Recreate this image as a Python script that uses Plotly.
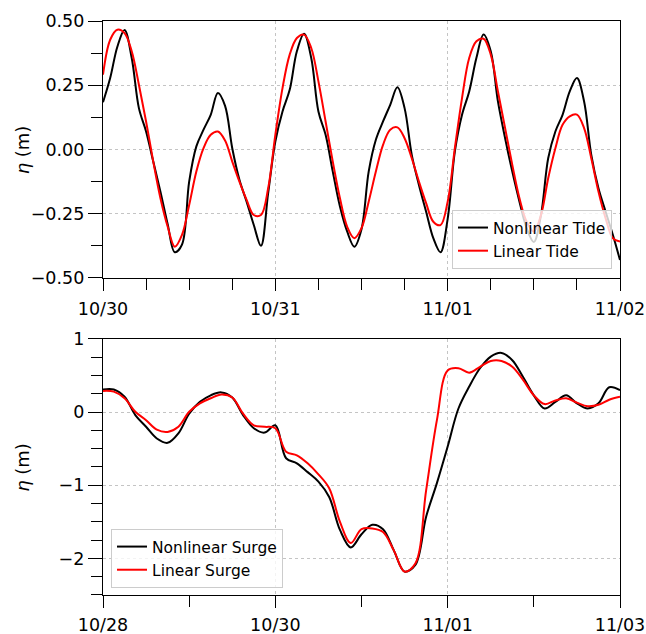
import pandas as pd
import plotly.graph_objects as go

# Tidal elevation, hourly from 10/30 00:00 to 11/02 00:00
tide_times = pd.date_range("2012-10-30 00:00", "2012-11-02 00:00", freq="1h")
nonlinear_tide = [
    0.184, 0.278, 0.40, 0.465, 0.356, 0.161, 0.07, -0.047, -0.164, -0.29,
    -0.40, -0.37, -0.125, 0.012, 0.077, 0.135, 0.22, 0.17, 0.005, -0.118,
    -0.203, -0.294, -0.375, -0.17, 0.031, 0.148, 0.232, 0.382, 0.45, 0.356,
    0.148, 0.057, -0.086, -0.222, -0.319, -0.378, -0.31, -0.086, 0.038, 0.109,
    0.174, 0.242, 0.161, -0.021, -0.138, -0.242, -0.345, -0.40, -0.27, -0.008,
    0.135, 0.226, 0.356, 0.447, 0.382, 0.187, 0.044, -0.086, -0.203, -0.306,
    -0.36, -0.255, -0.034, 0.07, 0.135, 0.226, 0.278, 0.187, -0.021, -0.151,
    -0.242, -0.332, -0.43,
]
linear_tide = [
    0.291, 0.427, 0.466, 0.453, 0.382, 0.252, 0.109, -0.047, -0.19, -0.30,
    -0.378, -0.332, -0.216, -0.086, 0.005, 0.057, 0.07, 0.035, -0.047, -0.125,
    -0.196, -0.255, -0.255, -0.151, 0.057, 0.239, 0.369, 0.434, 0.447, 0.395,
    0.265, 0.109, -0.047, -0.19, -0.30, -0.345, -0.306, -0.203, -0.086, 0.018,
    0.077, 0.086, 0.044, -0.034, -0.125, -0.209, -0.281, -0.294, -0.203, 0.005,
    0.20, 0.356, 0.421, 0.431, 0.369, 0.226, 0.083, -0.06, -0.19, -0.281,
    -0.319, -0.255, -0.112, 0.005, 0.096, 0.129, 0.136, 0.083, -0.034, -0.164,
    -0.268, -0.345, -0.358,
]

# Surge elevation, 3-hourly from 10/28 00:00 to 11/03 00:00
surge_times = pd.date_range("2012-10-28 00:00", "2012-11-03 00:00", freq="3h")
nonlinear_surge = [
    0.31, 0.31, 0.21, -0.04, -0.20, -0.36, -0.42, -0.29, -0.02, 0.14,
    0.23, 0.27, 0.20, -0.04, -0.22, -0.28, -0.18, -0.63, -0.70, -0.82,
    -0.95, -1.16, -1.61, -1.85, -1.67, -1.54, -1.60, -1.89, -2.18, -2.09,
    -1.43, -0.97, -0.47, 0.05, 0.35, 0.60, 0.76, 0.81, 0.71, 0.48,
    0.23, 0.05, 0.14, 0.23, 0.12, 0.05, 0.12, 0.34, 0.30,
]
linear_surge = [
    0.29, 0.28, 0.19, 0.005, -0.11, -0.24, -0.27, -0.20, 0.005, 0.12,
    0.19, 0.24, 0.20, -0.02, -0.18, -0.20, -0.22, -0.54, -0.59, -0.70,
    -0.85, -1.04, -1.50, -1.79, -1.60, -1.59, -1.64, -1.89, -2.18, -2.07,
    -1.07, -0.11, 0.57, 0.60, 0.54, 0.62, 0.70, 0.70, 0.62, 0.44,
    0.23, 0.11, 0.16, 0.19, 0.13, 0.08, 0.10, 0.17, 0.21,
]

FONT = "DejaVu Sans"
HOUR = 3600 * 1000
DAY = 24 * HOUR

fig = go.Figure()

fig.add_trace(go.Scatter(x=tide_times, y=nonlinear_tide, name="Nonlinear Tide",
                         mode="lines", line=dict(color="black", width=2, shape="spline"),
                         xaxis="x", yaxis="y", legend="legend"))
fig.add_trace(go.Scatter(x=tide_times, y=linear_tide, name="Linear Tide",
                         mode="lines", line=dict(color="#ff0000", width=2, shape="spline"),
                         xaxis="x", yaxis="y", legend="legend"))
fig.add_trace(go.Scatter(x=surge_times, y=nonlinear_surge, name="Nonlinear Surge",
                         mode="lines", line=dict(color="black", width=2, shape="spline"),
                         xaxis="x2", yaxis="y2", legend="legend2"))
fig.add_trace(go.Scatter(x=surge_times, y=linear_surge, name="Linear Surge",
                         mode="lines", line=dict(color="#ff0000", width=2, shape="spline"),
                         xaxis="x2", yaxis="y2", legend="legend2"))

common = dict(
    showline=True, linecolor="black", linewidth=1.3, mirror=True,
    ticks="outside", tickcolor="black", tickwidth=1.2,
    showgrid=True, gridcolor="#c4c4c4", griddash="dot", gridwidth=1,
    zeroline=False, automargin=False,
    tickfont=dict(family=FONT, size=17.5, color="black"),
)

top_dom = [0.5523, 1.0]
bot_dom = [0.0, 0.446]

fig.update_layout(
    width=646, height=634,
    margin=dict(l=103, r=26, t=21, b=39, autoexpand=False),
    paper_bgcolor="white", plot_bgcolor="white",
    font=dict(family=FONT, color="black"),
    xaxis=dict(common, domain=[0, 1], anchor="y", type="date",
               range=["2012-10-30", "2012-11-02"], tick0="2012-10-30", dtick=DAY,
               tickformat="%m/%d", ticklen=12, ticklabelstandoff=3,
               minor=dict(dtick=6 * HOUR, ticklen=11, tickwidth=1.2,
                          tickcolor="black", showgrid=False)),
    yaxis=dict(common, domain=top_dom, anchor="x", range=[-0.5, 0.5],
               tick0=0, dtick=0.25, tickformat=".2f", ticklen=14,
               minor=dict(dtick=0.125, ticklen=11, tickwidth=1.2,
                          tickcolor="black", showgrid=False)),
    xaxis2=dict(common, domain=[0, 1], anchor="y2", type="date",
                range=["2012-10-28", "2012-11-03"], tick0="2012-10-28", dtick=2 * DAY,
                tickformat="%m/%d", ticklen=12, ticklabelstandoff=2,
                minor=dict(dtick=DAY, ticklen=11, tickwidth=1.2,
                           tickcolor="black", showgrid=False)),
    yaxis2=dict(common, domain=bot_dom, anchor="x2", range=[-2.5, 1],
                tick0=0, dtick=1, ticklen=14,
                minor=dict(dtick=0.25, ticklen=11, tickwidth=1.2,
                           tickcolor="black", showgrid=False)),
    legend=dict(x=0.9845, y=0.568, xanchor="right", yanchor="bottom",
                bgcolor="rgba(255,255,255,0.8)", bordercolor="#cccccc", borderwidth=1,
                font=dict(family=FONT, size=15.5, color="black")),
    legend2=dict(x=0.0155, y=0.0122, xanchor="left", yanchor="bottom",
                 bgcolor="rgba(255,255,255,0.8)", bordercolor="#cccccc", borderwidth=1,
                 font=dict(family=FONT, size=15.5, color="black")),
    showlegend=True,
)

# y-axis titles centred on each panel
for ymid in [(top_dom[0] + top_dom[1]) / 2, (bot_dom[0] + bot_dom[1]) / 2]:
    fig.add_annotation(text="<i>η</i> (m)", xref="paper", yref="paper",
                       x=-0.155, y=ymid, xanchor="center", yanchor="middle",
                       textangle=-90, showarrow=False,
                       font=dict(family=FONT, size=18, color="black"))

fig.write_html("out.html")
